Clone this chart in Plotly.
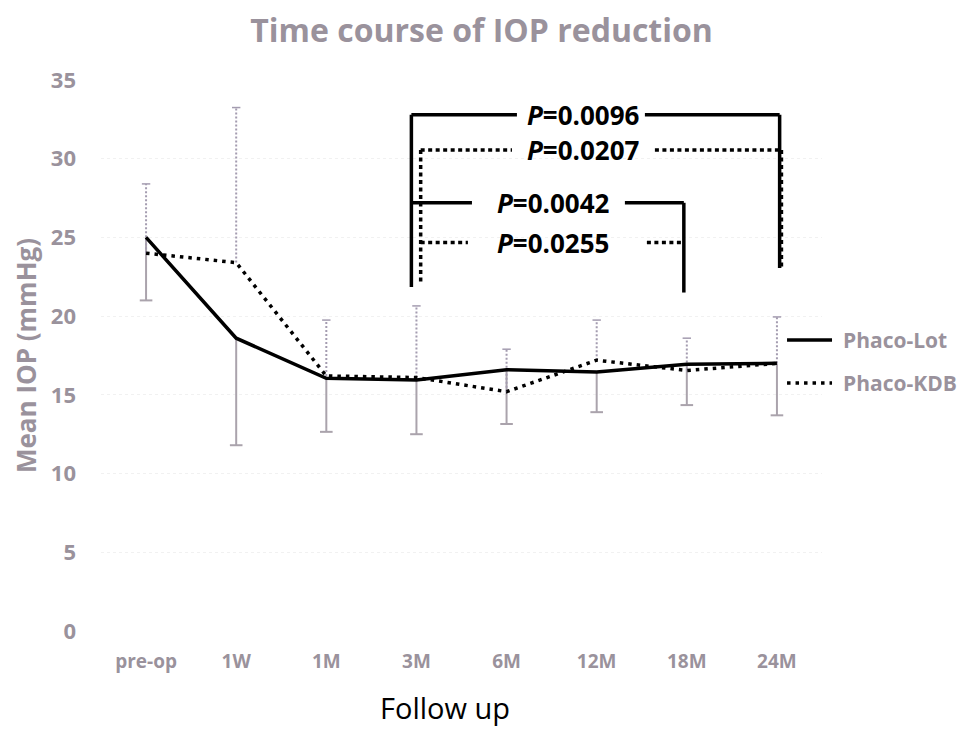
import plotly.graph_objects as go

categories = ["pre-op", "1W", "1M", "3M", "6M", "12M", "18M", "24M"]
lot_mean = [25.0, 18.6, 16.05, 15.95, 16.6, 16.45, 16.95, 17.0]
lot_sd = [4.0, 6.8, 3.4, 3.45, 3.45, 2.55, 2.6, 3.3]
kdb_mean = [24.0, 23.4, 16.2, 16.1, 15.2, 17.2, 16.55, 17.0]
kdb_sd = [4.4, 9.85, 3.55, 4.55, 2.7, 2.55, 2.05, 2.95]
y_ticks = [0, 5, 10, 15, 20, 25, 30, 35]
series_names = ["Phaco-Lot", "Phaco-KDB"]

GRAY = "#9a929c"
FONT = "Open Sans"
KDB_DASH = "3.5px,5px"

idx = list(range(len(categories)))

fig = go.Figure()

# error bars (Lot: downward, solid; KDB: upward, dotted)
ex, ey = [], []
for i, m, s in zip(idx, lot_mean, lot_sd):
    ex += [i, i, None]
    ey += [m, m - s, None]
fig.add_trace(go.Scatter(x=ex, y=ey, mode="lines", line=dict(color="#aaa3ac", width=2),
                         showlegend=False, hoverinfo="skip"))
fig.add_trace(go.Scatter(x=idx, y=[m - s for m, s in zip(lot_mean, lot_sd)], mode="markers",
                         marker=dict(symbol="line-ew", size=9, line=dict(color="#aaa3ac", width=2)),
                         showlegend=False, hoverinfo="skip"))
kx, ky = [], []
for i, m, s in zip(idx, kdb_mean, kdb_sd):
    kx += [i, i, None]
    ky += [m, m + s, None]
fig.add_trace(go.Scatter(x=kx, y=ky, mode="lines", line=dict(color="#a49cb0", width=2, dash="2px,2px"),
                         showlegend=False, hoverinfo="skip"))
fig.add_trace(go.Scatter(x=idx, y=[m + s for m, s in zip(kdb_mean, kdb_sd)], mode="markers",
                         marker=dict(symbol="line-ew", size=6, line=dict(color="#a49cb0", width=1.5)),
                         showlegend=False, hoverinfo="skip"))

fig.add_trace(go.Scatter(x=idx, y=lot_mean, mode="lines", name=series_names[0],
                         line=dict(color="black", width=3.5), showlegend=False))
fig.add_trace(go.Scatter(x=idx, y=kdb_mean, mode="lines", name=series_names[1],
                         line=dict(color="black", width=3.5, dash=KDB_DASH), showlegend=False))

# significance brackets
def seg(x0, y0, x1, y1, dotted):
    fig.add_shape(type="line", x0=x0, y0=y0, x1=x1, y1=y1, xref="x", yref="y",
                  line=dict(color="black", width=3.5,
                            dash="4px,3.5px" if dotted else "solid"))

brackets = [
    # y, left x, right x, left-bottom, right-bottom, gap start, gap end, text x, dotted, label
    (32.8, 2.944, 7.03, 21.85, 23.06, 4.115, 5.535, 4.85, False, "0.0096"),
    (30.56, 3.047, 7.05, 22.2, 23.1, 4.06, 5.646, 4.85, True, "0.0207"),
    (27.2, 2.944, 5.967, None, 21.5, 3.616, 5.313, 4.52, False, "0.0042"),
    (24.67, 3.047, 5.967, None, None, 3.571, 5.557, 4.52, True, "0.0255"),
]
for y, xl, xr, lb, rb, g0, g1, tx, dotted, lab in brackets:
    seg(xl, y, g0, y, dotted)
    seg(g1, y, xr, y, dotted)
    if lb is not None:
        seg(xl, y, xl, lb, dotted)
    if rb is not None:
        seg(xr, y, xr, rb, dotted)
    fig.add_annotation(x=tx, y=y, xref="x", yref="y", text=f"<b><i>P</i>={lab}</b>",
                       showarrow=False, font=dict(family=FONT, size=26, color="black"))

# manual legend
for name, ly, dash in [(series_names[0], 0.528, "solid"), (series_names[1], 0.450, KDB_DASH)]:
    fig.add_shape(type="line", xref="paper", yref="paper", x0=0.9515, x1=1.0139, y0=ly, y1=ly,
                  line=dict(color="black", width=3.5, dash=dash))
    fig.add_annotation(x=1.027, y=ly, xref="paper", yref="paper", text=f"<b>{name}</b>",
                       showarrow=False, xanchor="left", yanchor="middle",
                       font=dict(family=FONT, size=21, color=GRAY))

fig.add_annotation(x=0.477, y=-0.138, xref="paper", yref="paper", text="Follow up", showarrow=False,
                   font=dict(family=FONT, size=29, color="black"), xanchor="center", yanchor="middle")

fig.update_layout(
    width=951, height=722,
    margin=dict(l=93, r=137, t=72, b=99, autoexpand=False),
    paper_bgcolor="white", plot_bgcolor="white",
    title=dict(text="<b>Time course of IOP reduction</b>", x=0.498, xanchor="center", y=0.968, yanchor="middle",
               font=dict(family=FONT, size=32, color=GRAY)),
    xaxis=dict(tickmode="array", tickvals=idx, ticktext=[f"<b>{c}</b>" for c in categories],
               range=[-0.5, 7.5], showgrid=False, zeroline=False, showline=False,
               tickfont=dict(family=FONT, size=19, color=GRAY), ticks="", ticklabelstandoff=17),
    yaxis=dict(range=[0, 35], tickvals=y_ticks, ticktext=[f"<b>{v}</b>" for v in y_ticks],
               showgrid=True, gridcolor="#f1f1f1", griddash="dot", gridwidth=1, zeroline=False,
               showline=False, ticks="", ticklabelstandoff=24,
               tickfont=dict(family=FONT, size=22, color=GRAY),
               title=dict(text="<b>Mean IOP (mmHg)</b>", font=dict(family=FONT, size=26, color=GRAY), standoff=7)),
    showlegend=False,
)

fig.write_html("out.html")
